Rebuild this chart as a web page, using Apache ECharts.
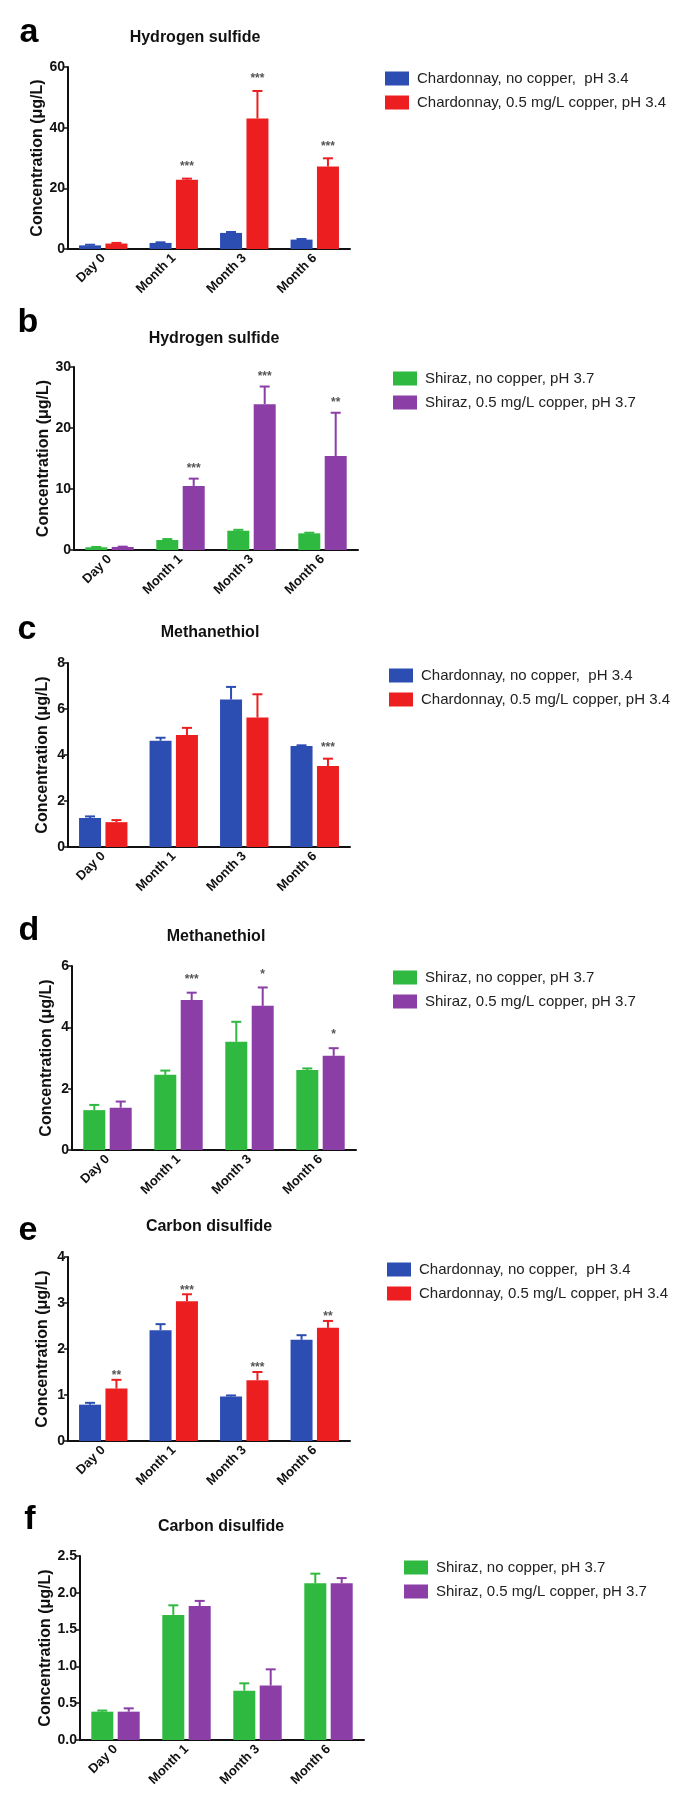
<!DOCTYPE html>
<html>
<head>
<meta charset="utf-8">
<script src="https://cdn.jsdelivr.net/npm/echarts@6/dist/echarts.min.js"></script>
<style>
  html, body { margin: 0; padding: 0; background: #ffffff; }
  #chart { width: 678px; height: 1793px; }
</style>
</head>
<body>
<div id="chart"></div>
<script>
// ---------- data ----------
const categories = ['Day 0', 'Month 1', 'Month 3', 'Month 6'];

const chardNoCuName = 'Chardonnay, no copper,  pH 3.4';
const chardCuName = 'Chardonnay, 0.5 mg/L copper, pH 3.4';
const shirazNoCuName = 'Shiraz, no copper, pH 3.7';
const shirazCuName = 'Shiraz, 0.5 mg/L copper, pH 3.7';

// a: Hydrogen sulfide, Chardonnay
const aNoCu = [1.2, 2.0, 5.3, 3.1];
const aNoCuErr = [0.2, 0.2, 0.3, 0.2];
const aCu = [1.8, 22.8, 43.0, 27.2];
const aCuErr = [0.2, 0.4, 9.1, 2.7];
const aStars = ['', '***', '***', '***'];

// b: Hydrogen sulfide, Shiraz
const bNoCu = [0.45, 1.64, 3.16, 2.73];
const bNoCuErr = [0.05, 0.15, 0.15, 0.1];
const bCu = [0.5, 10.5, 23.9, 15.4];
const bCuErr = [0.05, 1.2, 2.9, 7.1];
const bStars = ['', '***', '***', '**'];

// c: Methanethiol, Chardonnay
const cNoCu = [1.26, 4.62, 6.41, 4.39];
const cNoCuErr = [0.07, 0.13, 0.55, 0.03];
const cCu = [1.08, 4.87, 5.63, 3.52];
const cCuErr = [0.09, 0.31, 1.01, 0.32];
const cStars = ['', '', '', '***'];

// d: Methanethiol, Shiraz
const dNoCu = [1.30, 2.45, 3.53, 2.61];
const dNoCuErr = [0.17, 0.14, 0.65, 0.05];
const dCu = [1.38, 4.89, 4.70, 3.07];
const dCuErr = [0.20, 0.24, 0.60, 0.25];
const dStars = ['', '***', '*', '*'];

// e: Carbon disulfide, Chardonnay
const eNoCu = [0.79, 2.41, 0.97, 2.20];
const eNoCuErr = [0.04, 0.13, 0.02, 0.10];
const eCu = [1.14, 3.04, 1.32, 2.46];
const eCuErr = [0.19, 0.15, 0.18, 0.15];
const eStars = ['**', '***', '***', '**'];

// f: Carbon disulfide, Shiraz
const fNoCu = [0.385, 1.70, 0.67, 2.13];
const fNoCuErr = [0.015, 0.13, 0.10, 0.13];
const fCu = [0.385, 1.82, 0.74, 2.13];
const fCuErr = [0.045, 0.07, 0.22, 0.07];
const fStars = ['', '', '', ''];

// axis ranges / ticks
const aAxis = { max: 60, interval: 20 };
const bAxis = { max: 30, interval: 10 };
const cAxis = { max: 8, interval: 2 };
const dAxis = { max: 6, interval: 2 };
const eAxis = { max: 4, interval: 1 };
const fAxis = { max: 2.5, interval: 0.5, decimals: 1 };

// ---------- styling ----------
const FONT = "'Liberation Sans', Arial, Helvetica, sans-serif";
const BLUE = '#2C4DB2', RED = '#EC1E20', GREEN = '#30B940', PURPLE = '#8A3EA6';
const BAR_W = 22, GAP_RATIO = 0.2;
const yName = 'Concentration (μg/L)';

const panels = [
  { letter: 'a', title: 'Hydrogen sulfide', names: [chardNoCuName, chardCuName], colors: [BLUE, RED],
    vals: [aNoCu, aCu], errs: [aNoCuErr, aCuErr], stars: aStars, axis: aAxis,
    grid: { left: 68, top: 67, width: 282, height: 182 }, nameGap: 17, starGap: 15,
    titlePos: [195, 38], letterPos: [29, 33], legend: { left: 385, top: 71 } },
  { letter: 'b', title: 'Hydrogen sulfide', names: [shirazNoCuName, shirazCuName], colors: [GREEN, PURPLE],
    vals: [bNoCu, bCu], errs: [bNoCuErr, bCuErr], stars: bStars, axis: bAxis,
    grid: { left: 74, top: 367, width: 284, height: 183 }, nameGap: 19, starGap: 13,
    titlePos: [214, 339], letterPos: [28, 323], legend: { left: 393, top: 371 } },
  { letter: 'c', title: 'Methanethiol', names: [chardNoCuName, chardCuName], colors: [BLUE, RED],
    vals: [cNoCu, cCu], errs: [cNoCuErr, cCuErr], stars: cStars, axis: cAxis,
    grid: { left: 68, top: 663, width: 282, height: 184 }, nameGap: 17, starGap: 14,
    titlePos: [210, 633], letterPos: [27, 630], legend: { left: 389, top: 668 } },
  { letter: 'd', title: 'Methanethiol', names: [shirazNoCuName, shirazCuName], colors: [GREEN, PURPLE],
    vals: [dNoCu, dCu], errs: [dNoCuErr, dCuErr], stars: dStars, axis: dAxis,
    grid: { left: 72, top: 966, width: 284, height: 184 }, nameGap: 17, starGap: 16,
    titlePos: [216, 937], letterPos: [29, 931], legend: { left: 393, top: 970 } },
  { letter: 'e', title: 'Carbon disulfide', names: [chardNoCuName, chardCuName], colors: [BLUE, RED],
    vals: [eNoCu, eCu], errs: [eNoCuErr, eCuErr], stars: eStars, axis: eAxis,
    grid: { left: 68, top: 1257, width: 282, height: 184 }, nameGap: 17, starGap: 7,
    titlePos: [209, 1227], letterPos: [28, 1231], legend: { left: 387, top: 1262 } },
  { letter: 'f', title: 'Carbon disulfide', names: [shirazNoCuName, shirazCuName], colors: [GREEN, PURPLE],
    vals: [fNoCu, fCu], errs: [fNoCuErr, fCuErr], stars: fStars, axis: fAxis,
    grid: { left: 80, top: 1556, width: 284, height: 184 }, nameGap: 25, starGap: 10,
    titlePos: [221, 1527], letterPos: [30, 1520], legend: { left: 404, top: 1560 } }
];

const option = {
  backgroundColor: '#ffffff',
  animation: false,
  grid: [], xAxis: [], yAxis: [], series: [], legend: [], graphic: []
};

function makeErrRender(sign, color, stars, starGap) {
  return function (params, api) {
    const x = api.value(0), m = api.value(1), e = api.value(2);
    const base = api.coord([x, m]);
    const top = api.coord([x, m + e]);
    const off = sign * (BAR_W + BAR_W * GAP_RATIO) / 2;
    const cx = base[0] + off;
    const children = [
      { type: 'line', shape: { x1: cx, y1: base[1], x2: cx, y2: top[1] },
        style: { stroke: color, lineWidth: 2 } },
      { type: 'line', shape: { x1: cx - 5, y1: top[1], x2: cx + 5, y2: top[1] },
        style: { stroke: color, lineWidth: 2 } }
    ];
    const s = stars ? stars[params.dataIndex] : '';
    if (s) {
      children.push({ type: 'text', style: {
        text: s, x: cx, y: top[1] - starGap + 3, align: 'center', verticalAlign: 'middle',
        fontSize: 12, fontWeight: 'bold', fill: '#555', fontFamily: FONT } });
    }
    return { type: 'group', children: children };
  };
}

panels.forEach(function (p, i) {
  option.grid.push(Object.assign({ containLabel: false }, p.grid));
  option.xAxis.push({
    type: 'category', gridIndex: i, data: categories,
    axisLine: { lineStyle: { color: '#111', width: 2 } },
    axisTick: { alignWithLabel: true, length: 5, lineStyle: { color: '#111', width: 1.5 } },
    axisLabel: { rotate: 45, interval: 0, fontSize: 13, fontWeight: 'bold', color: '#111',
                 margin: 7, fontFamily: FONT }
  });
  const dec = p.axis.decimals || 0;
  option.yAxis.push({
    type: 'value', gridIndex: i, min: 0, max: p.axis.max, interval: p.axis.interval,
    axisLine: { show: true, lineStyle: { color: '#111', width: 2 } },
    axisTick: { show: true, length: 4, lineStyle: { color: '#111', width: 1.5 } },
    splitLine: { show: false },
    axisLabel: { fontSize: 14, fontWeight: 'bold', color: '#111', margin: 3, fontFamily: FONT,
                 formatter: function (v) { return v.toFixed(dec); } },
    name: yName, nameLocation: 'middle', nameGap: p.nameGap,
    nameTextStyle: { fontSize: 16, fontWeight: 'bold', color: '#111', fontFamily: FONT }
  });
  [0, 1].forEach(function (k) {
    option.series.push({
      type: 'bar', name: p.names[k], xAxisIndex: i, yAxisIndex: i,
      data: p.vals[k], barWidth: BAR_W, barGap: (GAP_RATIO * 100) + '%',
      itemStyle: { color: p.colors[k] }
    });
  });
  [0, 1].forEach(function (k) {
    option.series.push({
      type: 'custom', xAxisIndex: i, yAxisIndex: i, z: 3,
      renderItem: makeErrRender(k === 0 ? -1 : 1, p.colors[k], k === 1 ? p.stars : null, p.starGap),
      data: categories.map(function (c, j) { return [j, p.vals[k][j], p.errs[k][j]]; })
    });
  });
  option.legend.push({
    data: p.names, orient: 'vertical', left: p.legend.left, top: p.legend.top, padding: 0,
    itemWidth: 24, itemHeight: 14, itemGap: 9, icon: 'rect', selectedMode: false,
    textStyle: { fontSize: 15, color: '#222', fontFamily: FONT, padding: [0, 0, 0, 3] }
  });
  option.graphic.push({
    type: 'text', x: p.titlePos[0], y: p.titlePos[1],
    style: { text: p.title, align: 'center', verticalAlign: 'middle', fontSize: 16,
             fontWeight: 'bold', fill: '#111', fontFamily: FONT }
  });
  option.graphic.push({
    type: 'text', x: p.letterPos[0], y: p.letterPos[1],
    style: { text: p.letter, align: 'center', verticalAlign: 'middle', fontSize: 34,
             fontWeight: 'bold', fill: '#000', fontFamily: FONT }
  });
});

const chart = echarts.init(document.getElementById('chart'), null, { renderer: 'canvas' });
chart.setOption(option);
</script>
</body>
</html>
